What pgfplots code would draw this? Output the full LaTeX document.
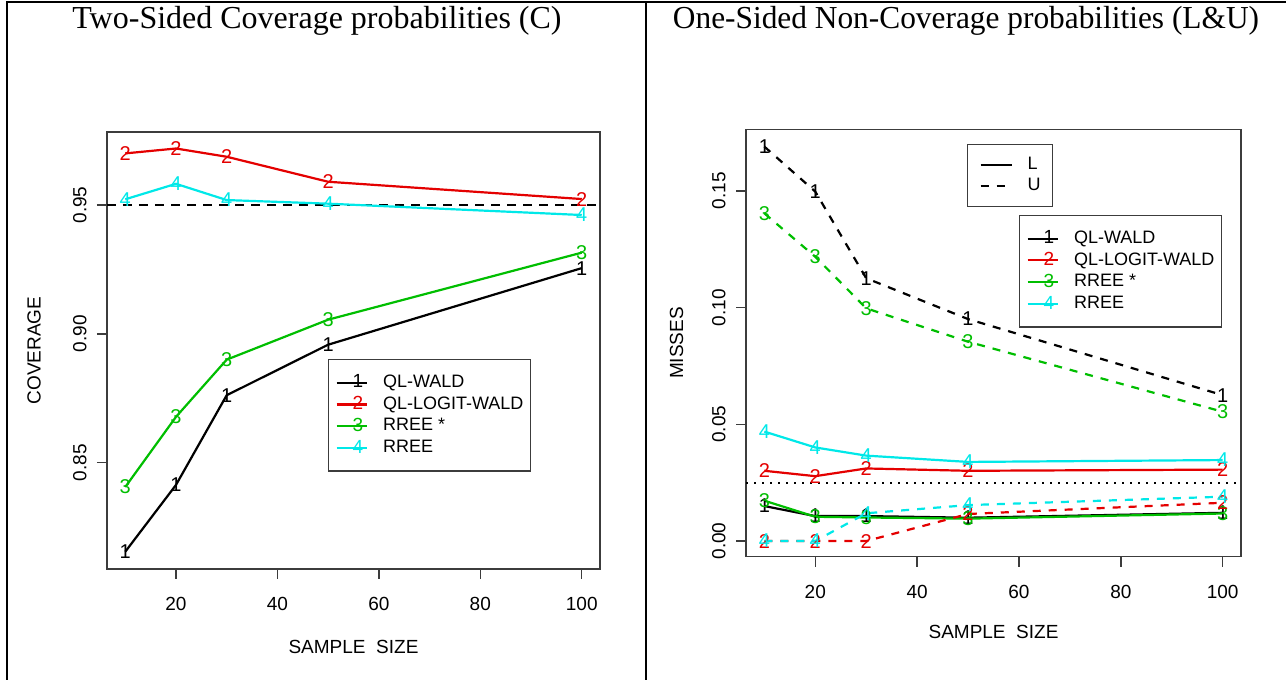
\documentclass[border=0pt]{standalone}
\usepackage{fontspec}
\setmainfont{Liberation Sans}
\newfontfamily\titlefont{Liberation Serif}
\usepackage{pgfplots}
\pgfplotsset{compat=1.18}
\definecolor{rred}{RGB}{228,0,0}
\definecolor{rgreen}{RGB}{0,190,0}
\definecolor{rcyan}{RGB}{0,232,232}
\definecolor{axgray}{RGB}{60,60,60}
\pgfplotsset{
  rstyle/.style={
    scale only axis,
    axis line style={axgray, line width=0.7pt},
    tick style={axgray, line width=0.7pt},
    tick pos=left,
    tick align=outside,
    major tick length=5pt,
    minor tick num=0,
    xmin=6.4, xmax=103.6,
    xtick={20,40,60,80,100},
    /pgf/number format/assume math mode=true,
    ticklabel style={font=\fontsize{9.5}{10}\selectfont},
    yticklabel style={rotate=90, anchor=south, inner sep=0pt, yshift=5pt,
      /pgf/number format/fixed, /pgf/number format/fixed zerofill, /pgf/number format/precision=2},
    xticklabel style={anchor=north, inner sep=0pt, yshift=-9pt},
    label style={font=\fontsize{9.5}{10}\selectfont},
    legend cell align=left,
    legend style={draw=axgray, line width=0.6pt, fill=white,
      inner xsep=3.5pt, inner ysep=7.5pt, row sep=2.8pt, column sep=7.35pt,
      font=\fontsize{9}{10}\selectfont,
      nodes={inner sep=0pt, text depth=0.15em}},
  },
  rline/.style 2 args={color=#1, line width=1.1pt, mark=text, text mark={#2}, text mark as node=true,
     text mark style={font=\fontsize{10}{10}\selectfont, inner sep=0pt, text=#1}, mark options={solid}},
  legimg/.style 2 args={legend image code/.code={
     \draw[#1, line width=1.1pt] (0pt,0pt) -- (15.3pt,0pt);
     \node[text=#1, inner sep=0pt, font=\fontsize{9.5}{10}\selectfont] at (7.65pt,0pt) {#2};}},
}
\begin{document}
\begin{tikzpicture}[x=1pt,y=1pt]
\path[use as bounding box] (0,0) rectangle (643,340);
\draw[line width=1.2pt] (3.5,0) -- (3.5,339) -- (643,339);
\draw[line width=1.2pt] (323,0) -- (323,339);
\node[font=\titlefont\fontsize{16}{18}\selectfont, anchor=base] at (158.5,325.5) {Two-Sided Coverage probabilities (C)};
\node[font=\titlefont\fontsize{16}{18}\selectfont, anchor=base, xscale=0.98] at (483,325.5) {One-Sided Non-Coverage probabilities (L\&U)};

\begin{axis}[rstyle, at={(53.5pt,55.5pt)}, anchor=south west, width=246.5pt, height=218.5pt,
  ymin=0.8088, ymax=0.9783, ytick={0.85,0.90,0.95},
  xlabel={SAMPLE\ \ SIZE}, ylabel={COVERAGE},
  xlabel style={at={(axis description cs:0.5,-0.1778)}, anchor=center},
  ylabel style={at={(axis description cs:-0.148,0.5)}, anchor=center},
  legend style={at={(0.4483,0.4805)}, anchor=north west},
]
\addplot[black, line width=1.2pt, dash pattern=on 4.5pt off 3.5pt, forget plot] coordinates {(6.4,0.95) (103.6,0.95)};
\addplot[rline={black}{1}, forget plot] coordinates {(10,0.8155) (20,0.8414) (30,0.8762) (50,0.8958) (100,0.9255)};
\addplot[rline={rred}{2}, forget plot] coordinates {(10,0.9700) (20,0.9719) (30,0.9687) (50,0.9590) (100,0.9523)};
\addplot[rline={rgreen}{3}, forget plot] coordinates {(10,0.8406) (20,0.8678) (30,0.8900) (50,0.9055) (100,0.9315)};
\addplot[rline={rcyan}{4}, forget plot] coordinates {(10,0.9522) (20,0.9582) (30,0.9519) (50,0.9505) (100,0.9461)};
\addlegendimage{legimg={black}{1}}\addlegendentry{QL-WALD}
\addlegendimage{legimg={rred}{2}}\addlegendentry{QL-LOGIT-WALD}
\addlegendimage{legimg={rgreen}{3}}\addlegendentry{RREE *}
\addlegendimage{legimg={rcyan}{4}}\addlegendentry{RREE}
\end{axis}

\begin{axis}[rstyle, at={(373pt,61.65pt)}, anchor=south west, width=247.5pt, height=213.7pt,
  ymin=-0.0067, ymax=0.1764, ytick={0,0.05,0.10,0.15},
  xlabel={SAMPLE\ \ SIZE}, ylabel={MISSES},
  xlabel style={at={(axis description cs:0.5,-0.1755)}, anchor=center},
  ylabel style={at={(axis description cs:-0.14,0.5)}, anchor=center},
  legend style={at={(0.5515,0.7995)}, anchor=north west},
]
\addplot[black, line width=1.0pt, dash pattern=on 1pt off 3pt, forget plot] coordinates {(6.4,0.025) (103.6,0.025)};
% L (solid)
\addplot[rline={black}{1}, forget plot] coordinates {(10,0.0150) (20,0.0107) (30,0.0107) (50,0.0100) (100,0.0121)};
\addplot[rline={rred}{2}, forget plot] coordinates {(10,0.0301) (20,0.0278) (30,0.0311) (50,0.0301) (100,0.0306)};
\addplot[rline={rgreen}{3}, forget plot] coordinates {(10,0.0173) (20,0.0104) (30,0.0101) (50,0.0096) (100,0.0118)};
\addplot[rline={rcyan}{4}, forget plot] coordinates {(10,0.0469) (20,0.0401) (30,0.0366) (50,0.0339) (100,0.0347)};
% U (dashed)
\addplot[rline={black}{1}, dash pattern=on 4pt off 4pt, forget plot] coordinates {(10,0.1690) (20,0.1497) (30,0.1126) (50,0.0951) (100,0.0625)};
\addplot[rline={rred}{2}, dash pattern=on 4pt off 4pt, forget plot] coordinates {(10,0.0) (20,0.0) (30,0.0) (50,0.0116) (100,0.0164)};
\addplot[rline={rgreen}{3}, dash pattern=on 4pt off 4pt, forget plot] coordinates {(10,0.1404) (20,0.1218) (30,0.0997) (50,0.0854) (100,0.0554)};
\addplot[rline={rcyan}{4}, dash pattern=on 4pt off 4pt, forget plot] coordinates {(10,0.0) (20,0.0) (30,0.0119) (50,0.0154) (100,0.0190)};
\addlegendimage{legimg={black}{1}}\addlegendentry{QL-WALD}
\addlegendimage{legimg={rred}{2}}\addlegendentry{QL-LOGIT-WALD}
\addlegendimage{legimg={rgreen}{3}}\addlegendentry{RREE *}
\addlegendimage{legimg={rcyan}{4}}\addlegendentry{RREE}
\end{axis}

\begin{axis}[rstyle, hide axis, at={(373pt,61.65pt)}, anchor=south west, width=247.5pt, height=213.7pt,
  ymin=-0.0067, ymax=0.1764,
  legend style={at={(0.4465,0.9656)}, anchor=north west, inner xsep=6pt, inner ysep=6.4pt},
]
\addlegendimage{legend image code/.code={\draw[black, line width=1.1pt] (0pt,0pt) -- (15.5pt,0pt);}}\addlegendentry{L}
\addlegendimage{legend image code/.code={\draw[black, line width=1.1pt, dash pattern=on 4pt off 4pt] (0pt,0pt) -- (15.5pt,0pt);}}\addlegendentry{U}
\end{axis}
\end{tikzpicture}
\end{document}
